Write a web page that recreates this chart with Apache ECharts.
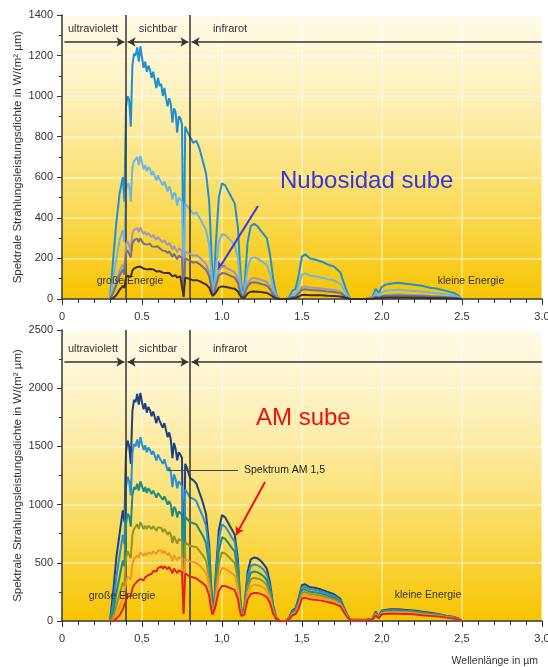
<!DOCTYPE html>
<html>
<head>
<meta charset="utf-8">
<script src="https://cdn.jsdelivr.net/npm/echarts@6/dist/echarts.min.js"></script>
<style>
html,body{margin:0;padding:0;background:#fff;}
#c{width:548px;height:667px;}
</style>
</head>
<body>
<div id="c"></div>
<script>
// Wavelengths (µm), shared by all curves
const wl = [0.30,0.32,0.34,0.36,0.38,0.39,0.40,0.41,0.42,0.43,
0.44,0.45,0.46,0.47,0.48,0.49,0.50,0.51,0.52,0.53,
0.54,0.55,0.56,0.57,0.58,0.59,0.60,0.61,0.62,0.63,
0.64,0.65,0.66,0.67,0.68,0.69,0.70,0.71,0.72,0.73,
0.74,0.75,0.76,0.77,0.78,0.80,0.82,0.84,0.86,0.88,
0.90,0.92,0.93,0.94,0.95,0.96,0.98,1.00,1.02,1.04,
1.06,1.08,1.10,1.11,1.12,1.13,1.14,1.16,1.18,1.20,
1.22,1.24,1.26,1.28,1.30,1.32,1.34,1.36,1.40,1.42,
1.44,1.46,1.48,1.50,1.52,1.55,1.58,1.62,1.66,1.70,
1.74,1.77,1.80,1.85,1.90,1.94,1.96,1.98,2.00,2.02,
2.05,2.10,2.15,2.20,2.25,2.30,2.35,2.40,2.45,2.48,2.50];

// Top panel: cloudiness increases
const cloud0 = [0,200,380,520,600,480,950,1000,980,850,
1150,1210,1200,1240,1170,1245,1190,1140,1170,1120,
1150,1130,1090,1120,1080,1040,1090,1050,1060,1000,
1040,990,950,990,960,870,940,920,820,900,
890,860,60,850,830,800,770,780,740,680,
620,480,300,120,80,250,500,570,560,530,
500,470,350,200,80,30,60,280,360,370,
360,340,320,300,220,100,20,0,0,10,
40,50,120,210,220,200,195,185,170,160,
130,60,0,0,0,10,50,30,60,70,
75,80,75,70,65,55,50,40,30,15,0];
const cloud1 = [0,100,200,290,340,280,540,570,560,480,
650,680,675,700,660,705,670,640,660,630,
650,640,610,630,605,585,610,590,595,560,
580,555,530,555,535,490,525,515,460,500,
495,480,40,470,460,440,420,425,400,370,
340,265,170,70,45,140,280,320,315,300,
285,265,200,115,45,18,35,155,200,205,
200,190,180,168,125,55,12,0,0,6,
22,28,70,120,126,115,112,106,98,92,
75,35,0,0,0,6,28,17,34,40,
43,46,43,40,37,32,28,23,17,9,0];
const cloud2 = [0,40,90,140,170,140,270,285,280,240,
325,340,338,350,330,352,335,320,330,315,
325,320,305,315,302,292,305,295,297,280,
290,277,265,277,268,245,262,257,230,250,
248,240,20,235,230,222,214,216,205,190,
172,135,85,35,22,70,140,160,157,148,
140,132,98,56,22,9,17,78,100,104,
100,95,90,84,62,28,6,0,0,3,
11,14,34,59,62,56,55,52,48,45,
37,17,0,0,0,3,14,8,17,20,
21,22,21,20,18,15,14,11,8,4,0];
const cloud3 = [0,30,70,115,145,120,225,240,235,205,
275,290,285,298,280,300,285,272,280,268,
276,272,260,268,257,248,260,250,253,238,
247,236,226,236,228,208,223,218,196,213,
211,204,15,200,196,188,180,182,172,158,
144,112,70,28,18,58,115,128,126,119,
112,105,78,45,18,7,13,62,80,82,
80,75,71,66,49,22,5,0,0,2,
9,11,27,46,48,44,43,41,37,35,
29,13,0,0,0,2,11,7,13,15,
16,17,16,15,14,12,11,9,6,3,0];
const cloud4 = [0,5,20,45,65,55,105,115,118,108,
140,150,148,158,150,160,155,150,152,146,
150,148,142,146,140,136,142,137,138,130,
134,128,122,128,124,112,120,117,105,114,
112,108,10,106,104,98,92,93,88,80,
72,56,35,15,10,30,56,62,60,57,
53,50,37,21,9,4,6,28,36,37,
36,34,32,30,22,10,2,0,0,1,
4,5,12,20,21,19,19,18,16,15,
12,6,0,0,0,1,5,3,6,6,
7,7,7,6,6,5,5,4,3,1,0];

// Bottom panel: air mass increases
const am0 = [0,250,550,750,950,850,1450,1550,1500,1350,
1800,1900,1880,1950,1860,1960,1880,1820,1870,1790,
1840,1810,1760,1800,1750,1700,1760,1720,1730,1660,
1700,1640,1580,1620,1560,1400,1530,1480,1380,1450,
1430,1400,130,1350,1320,1230,1210,1180,1100,1020,
920,650,350,150,100,380,780,910,890,840,
790,740,520,260,110,60,120,420,530,545,
540,520,490,450,330,130,30,0,0,30,
90,110,200,310,315,290,285,270,250,230,
190,90,10,10,10,20,80,40,90,95,
100,100,95,90,80,70,60,45,35,20,0];
const am1 = [0,150,380,560,740,660,1150,1240,1200,1080,
1440,1520,1500,1560,1490,1580,1520,1470,1510,1450,
1490,1470,1430,1460,1420,1380,1430,1400,1410,1350,
1390,1340,1290,1320,1280,1150,1260,1220,1140,1200,
1190,1160,110,1130,1110,1060,1050,1030,960,900,
820,580,310,130,90,340,700,830,810,770,
720,680,470,235,100,55,110,380,475,485,
480,465,440,400,295,115,27,0,0,27,
80,100,180,290,295,272,268,254,235,216,
178,84,9,9,9,18,74,37,84,88,
93,93,88,84,74,65,56,42,32,18,0];
const am2 = [0,80,240,380,520,470,840,920,900,810,
1080,1150,1130,1180,1120,1200,1160,1110,1150,1100,
1140,1120,1090,1120,1090,1060,1100,1080,1090,1040,
1070,1040,1000,1030,1000,900,980,960,890,940,
935,915,95,895,880,850,840,830,780,735,
670,480,260,110,80,290,600,720,705,670,
630,595,410,205,88,48,95,330,415,425,
420,405,385,350,258,100,24,0,0,24,
72,90,162,268,272,252,248,235,217,200,
165,78,8,8,8,16,68,34,78,82,
86,86,82,78,68,60,52,39,30,17,0];
const am3 = [0,40,130,230,330,300,540,600,600,540,
740,790,790,830,790,850,820,790,820,790,
820,810,790,815,795,775,805,790,800,765,
790,770,740,765,745,670,730,715,665,705,
700,685,80,675,665,645,640,635,600,565,
520,375,205,90,65,230,490,590,580,555,
525,495,345,175,75,42,82,285,360,370,
366,355,337,308,228,90,21,0,0,21,
64,80,145,245,250,232,228,216,200,185,
153,72,7,7,7,14,62,31,72,76,
80,80,76,72,63,55,48,36,28,16,0];
const am4 = [0,10,60,120,190,180,330,380,390,360,
490,530,535,565,545,590,575,560,585,565,
590,585,575,600,585,575,605,595,605,580,
600,590,565,585,575,515,565,555,520,550,
548,538,70,530,522,510,505,500,475,450,
415,300,165,72,52,185,385,455,450,432,
410,388,270,140,62,36,70,240,300,310,
308,300,285,262,195,78,18,0,0,18,
56,70,128,222,228,212,208,198,184,170,
140,66,6,6,6,12,56,28,66,70,
73,73,70,66,58,51,44,33,26,14,0];
const am5 = [0,0,20,50,100,100,180,210,225,215,
280,310,320,340,335,360,355,350,375,370,
395,400,405,430,425,425,455,450,470,450,
470,465,445,465,455,410,450,440,410,435,
430,420,60,410,400,380,375,365,345,325,
300,215,120,55,40,130,260,300,300,290,
278,265,185,98,45,28,55,185,232,240,
240,233,222,205,152,62,14,0,0,15,
48,60,110,195,200,186,183,175,163,150,
125,58,5,5,5,10,48,24,58,60,
63,63,60,57,50,44,38,29,22,12,0];

const topSeries = [cloud0, cloud1, cloud2, cloud3, cloud4];
const topColors = ['#1f8fd4', '#6cb8e3', '#9c9aba', '#70708a', '#3b2f2f'];
const botSeries = [am0, am1, am2, am3, am4, am5];
const botColors = ['#1e3f82', '#2790d4', '#1f8a82', '#8c962e', '#f0962d', '#e1231e'];

const topTicks = [0, 200, 400, 600, 800, 1000, 1200, 1400];
const botTicks = [0, 500, 1000, 1500, 2000, 2500];
const regionLabels = ['ultraviolett', 'sichtbar', 'infrarot'];

const FONT = '"Liberation Sans", Arial, sans-serif';
const yName = 'Spektrale Strahlungsleistungsdichte in W/(m² µm)';

const bg = {
  type: 'linear', x: 0, y: 0, x2: 0, y2: 1,
  colorStops: [
    {offset: 0, color: '#fffbe9'},
    {offset: 0.3, color: '#fdf0b8'},
    {offset: 0.6, color: '#fbe070'},
    {offset: 1, color: '#f7c400'}
  ]
};

function xAxisCfg(idx, comma) {
  return {
    type: 'value', gridIndex: idx, min: 0, max: 3, interval: 0.5,
    axisLine: {show: true, onZero: false, lineStyle: {color: '#333', width: 1.5}},
    axisTick: {show: true, length: 6, lineStyle: {color: '#333'}},
    minorTick: {show: true, splitNumber: 5, length: 4, lineStyle: {color: '#333'}},
    splitLine: {show: true, lineStyle: {color: 'rgba(255,255,255,0.55)', width: 1.5}},
    axisLabel: {
      fontFamily: FONT, fontSize: 11, color: '#333', margin: 12,
      formatter: v => v === 0 ? '0' : (comma ? v.toFixed(1).replace('.', ',') : v.toFixed(1))
    }
  };
}
function yAxisCfg(idx, max, interval) {
  return {
    type: 'value', gridIndex: idx, min: 0, max: max, interval: interval,
    name: yName, nameLocation: 'middle', nameGap: 38, nameRotate: 90,
    nameMoveOverlap: false,
    nameTextStyle: {fontFamily: FONT, fontSize: 11.5, color: '#333'},
    axisLine: {show: true, lineStyle: {color: '#333', width: 1.5}},
    axisTick: {show: true, length: 5, lineStyle: {color: '#333'}},
    minorTick: {show: true, splitNumber: 2, length: 3, lineStyle: {color: '#333'}},
    splitLine: {show: true, lineStyle: {color: 'rgba(255,255,255,0.55)', width: 1.5}},
    axisLabel: {fontFamily: FONT, fontSize: 11, color: '#333', margin: 9, formatter: v => String(v)}
  };
}

function seg(x1, y1, x2, y2, s1, s2, style) {
  return [
    {coord: [x1, y1], symbol: s1, symbolSize: [7, 8]},
    {coord: [x2, y2], symbol: s2, symbolSize: [7, 8], lineStyle: style}
  ];
}

function headerLines(ymax, yArrow) {
  const st = {color: '#333', width: 1.5, type: 'solid'};
  return [
    seg(0.4, 0, 0.4, ymax, 'none', 'none', st),
    seg(0.8, 0, 0.8, ymax, 'none', 'none', st),
    seg(0.015, yArrow, 0.39, yArrow, 'none', 'arrow', st),
    seg(0.41, yArrow, 0.79, yArrow, 'arrow', 'arrow', st),
    seg(0.81, yArrow, 3.0, yArrow, 'arrow', 'none', st)
  ];
}

const series = [];
topSeries.forEach((s, k) => {
  series.push({
    type: 'line', xAxisIndex: 0, yAxisIndex: 0, showSymbol: false, symbol: 'none',
    data: wl.map((x, i) => [x, s[i]]),
    lineStyle: {color: topColors[k], width: 2}, z: 3 + k
  });
});
botSeries.forEach((s, k) => {
  series.push({
    type: 'line', xAxisIndex: 1, yAxisIndex: 1, showSymbol: false, symbol: 'none',
    data: wl.map((x, i) => [x, s[i]]),
    lineStyle: {color: botColors[k], width: 2}, z: 3 + k
  });
});
// annotation lines
series.push({
  type: 'line', xAxisIndex: 0, yAxisIndex: 0, data: [], z: 10,
  markLine: {
    silent: true, animation: false, label: {show: false},
    lineStyle: {color: '#333', width: 1.5, type: 'solid'},
    data: headerLines(1400, 1267).concat([
      seg(1.225, 458, 0.975, 143, 'none', 'arrow', {color: '#3a3adc', width: 2, type: 'solid'})
    ])
  }
});
series.push({
  type: 'line', xAxisIndex: 1, yAxisIndex: 1, data: [], z: 10,
  markLine: {
    silent: true, animation: false, label: {show: false},
    lineStyle: {color: '#333', width: 1.5, type: 'solid'},
    data: headerLines(2500, 2225).concat([
      seg(0.66, 1297, 1.10, 1297, 'none', 'none', {color: '#444', width: 1, type: 'solid'}),
      seg(1.269, 1194, 1.0875, 739, 'none', 'arrow', {color: '#ee1111', width: 2, type: 'solid'})
    ])
  }
});

function txt(x, y, text, opts) {
  return {
    type: 'text', x: x, y: y, z: 100,
    style: Object.assign({
      text: text, fill: '#333', font: '10.5px ' + FONT,
      textAlign: 'center', textVerticalAlign: 'middle'
    }, opts || {})
  };
}

const graphics = [
  txt(93, 29, regionLabels[0], {font: '11px ' + FONT}),
  txt(158, 29, regionLabels[1], {font: '11px ' + FONT}),
  txt(230, 29, regionLabels[2], {font: '11px ' + FONT}),
  txt(93, 349, regionLabels[0], {font: '11px ' + FONT}),
  txt(158, 349, regionLabels[1], {font: '11px ' + FONT}),
  txt(230, 349, regionLabels[2], {font: '11px ' + FONT}),
  txt(130, 281, 'große Energie'),
  txt(471, 281, 'kleine Energie'),
  txt(122, 596, 'große Energie'),
  txt(428, 595, 'kleine Energie'),
  txt(244, 470, 'Spektrum AM 1,5', {textAlign: 'left', fill: '#222'}),
  txt(538, 661, 'Wellenlänge in µm', {textAlign: 'right'}),
  txt(280, 181, 'Nubosidad sube', {textAlign: 'left', fill: '#3636d8', font: '24px "Liberation Sans", Arial, sans-serif'}),
  txt(256, 418, 'AM sube', {textAlign: 'left', fill: '#ee1111', font: '24px "Liberation Sans", Arial, sans-serif'})
];

const chart = echarts.init(document.getElementById('c'), null, {renderer: 'canvas'});
chart.setOption({
  animation: false,
  backgroundColor: '#fff',
  grid: [
    {left: 62, top: 15, width: 480, height: 284, show: true, backgroundColor: bg, borderWidth: 0, containLabel: false, outerBoundsMode: 'none'},
    {left: 62, top: 330, width: 480, height: 291, show: true, backgroundColor: bg, borderWidth: 0, containLabel: false, outerBoundsMode: 'none'}
  ],
  xAxis: [xAxisCfg(0, false), xAxisCfg(1, true)],
  yAxis: [yAxisCfg(0, 1400, 200), yAxisCfg(1, 2500, 500)],
  series: series,
  graphic: graphics
});
</script>
</body>
</html>
